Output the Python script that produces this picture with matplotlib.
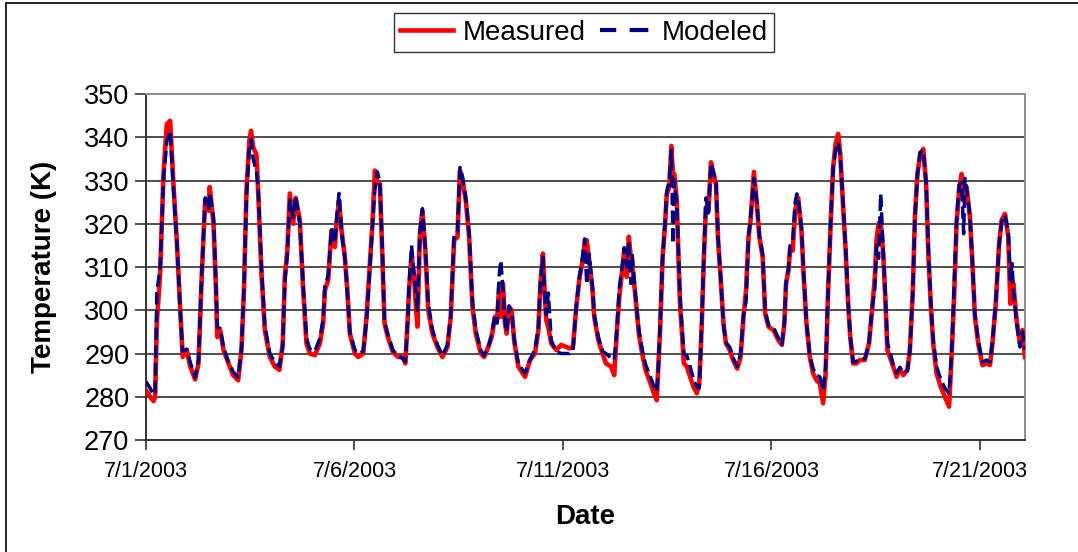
import matplotlib
matplotlib.use("Agg")
import matplotlib.pyplot as plt
import matplotlib.dates as mdates
from matplotlib.lines import Line2D
from matplotlib.patches import Rectangle
import pandas as pd

plt.rcParams["font.family"] = ["Liberation Sans", "DejaVu Sans"]

# days since 7/1/2003 00:00, measured (K), modeled (K)
days = [
    0.00, 0.10, 0.18, 0.22, 0.26, 0.34, 0.42, 0.50, 0.58, 0.66, 0.74, 0.82, 0.88, 0.98,
    1.06, 1.18, 1.26, 1.34, 1.42, 1.50, 1.53, 1.62, 1.68, 1.71, 1.78, 1.86, 1.98,
    2.09, 2.21, 2.29, 2.35, 2.41, 2.48, 2.52, 2.57, 2.65, 2.69, 2.77, 2.85, 2.97,
    3.09, 3.20, 3.28, 3.33, 3.39, 3.45, 3.53, 3.59, 3.69, 3.77, 3.85, 3.93,
    4.05, 4.17, 4.25, 4.29, 4.37, 4.45, 4.53, 4.57, 4.63, 4.69, 4.77, 4.83, 4.89,
    5.01, 5.09, 5.21, 5.29, 5.37, 5.43, 5.49, 5.55, 5.61, 5.67, 5.72, 5.80, 5.92,
    6.04, 6.16, 6.22, 6.28, 6.31, 6.37, 6.43, 6.47, 6.51, 6.57, 6.63, 6.70, 6.77, 6.87, 6.99,
    7.11, 7.23, 7.31, 7.39, 7.47, 7.53, 7.59, 7.67, 7.75, 7.83, 7.91,
    8.03, 8.11, 8.21, 8.29, 8.37, 8.42, 8.47, 8.51, 8.56, 8.61, 8.65, 8.71, 8.77, 8.83, 8.93,
    9.01, 9.09, 9.21, 9.33, 9.41, 9.46, 9.52, 9.56, 9.60, 9.65, 9.72, 9.84, 9.96,
    10.08, 10.16, 10.24, 10.32, 10.40, 10.46, 10.52, 10.57, 10.63, 10.71, 10.75, 10.85, 10.95,
    11.03, 11.15, 11.23, 11.29, 11.35, 11.43, 11.47, 11.53, 11.58, 11.63, 11.66, 11.74, 11.82, 11.90, 11.98,
    12.10, 12.18, 12.25, 12.29, 12.33, 12.39, 12.45, 12.49, 12.55, 12.60, 12.64, 12.67, 12.73, 12.77, 12.81, 12.85, 12.90, 12.97,
    13.05, 13.13, 13.21, 13.27, 13.33, 13.38, 13.43, 13.49, 13.55, 13.61, 13.67, 13.72, 13.78, 13.85, 13.91,
    14.00, 14.08, 14.18, 14.26, 14.33, 14.39, 14.45, 14.50, 14.58, 14.65, 14.71, 14.79, 14.85, 14.93,
    15.05, 15.17, 15.25, 15.31, 15.35, 15.41, 15.45, 15.51, 15.57, 15.61, 15.64, 15.72, 15.77, 15.84, 15.92,
    16.00, 16.08, 16.16, 16.24, 16.30, 16.36, 16.42, 16.48, 16.54, 16.60, 16.65, 16.72, 16.78, 16.84, 16.89, 16.96,
    17.04, 17.12, 17.24, 17.34, 17.42, 17.48, 17.52, 17.57, 17.62, 17.68, 17.73, 17.78, 17.84, 17.92,
    18.00, 18.08, 18.16, 18.26, 18.32, 18.39, 18.44, 18.50, 18.56, 18.64, 18.71, 18.76, 18.82, 18.88, 18.96,
    19.06, 19.16, 19.26, 19.32, 19.38, 19.44, 19.50, 19.56, 19.61, 19.64, 19.68, 19.76, 19.82, 19.88, 19.96,
    20.06, 20.16, 20.24, 20.30, 20.38, 20.46, 20.52, 20.60, 20.68, 20.73, 20.77, 20.80, 20.88, 20.96,
    21.02, 21.08,
]

measured = [
    281.5, 280.0, 279.0, 280.0, 297.0, 308.5, 331.5, 343.0, 343.8, 329.0, 316.0, 300.8, 289.2, 290.8,
    287.0, 284.0, 287.7, 308.5, 325.4, 323.0, 328.5, 320.0, 304.6, 293.8, 295.4, 290.8, 287.7,
    285.0, 283.8, 290.8, 304.6, 327.7, 339.2, 341.5, 337.7, 336.0, 327.7, 308.5, 295.4, 289.2,
    287.0, 286.2, 292.3, 307.7, 313.8, 327.0, 320.0, 326.0, 320.8, 304.6, 292.3, 290.0,
    289.6, 292.3, 297.0, 304.6, 307.0, 318.5, 314.6, 320.0, 325.4, 318.5, 312.3, 304.6, 294.6,
    290.0, 289.2, 290.0, 298.5, 310.8, 320.0, 332.3, 329.5, 329.2, 312.3, 297.0, 293.8, 290.4,
    289.2, 289.2, 287.7, 298.5, 304.6, 313.0, 307.7, 301.5, 296.2, 317.7, 323.0, 313.8, 300.0, 294.6, 291.5,
    289.2, 291.5, 298.5, 316.2, 316.9, 332.3, 330.0, 325.4, 317.0, 300.8, 294.6,
    290.0, 289.2, 291.5, 293.8, 298.5, 297.7, 305.4, 298.5, 306.2, 297.0, 294.6, 300.8, 300.0, 293.0, 287.0,
    285.8, 284.6, 288.5, 290.0, 295.4, 306.2, 313.1, 304.6, 297.7, 296.0, 292.3, 290.8, 292.0,
    291.5, 291.2, 291.5, 300.8, 307.7, 310.8, 315.4, 316.2, 311.5, 304.6, 298.5, 293.0, 290.0,
    287.7, 287.0, 285.0, 294.6, 303.0, 310.0, 313.8, 307.7, 317.0, 312.0, 310.8, 303.0, 294.6, 290.0, 286.2,
    283.1, 280.8, 279.2, 287.7, 295.4, 312.3, 320.0, 326.9, 328.5, 338.0, 331.0, 331.5, 325.4, 312.3, 300.8, 295.4, 287.7, 287.0,
    284.6, 282.3, 280.8, 283.1, 297.0, 312.3, 323.8, 323.0, 334.2, 331.5, 329.2, 316.2, 307.7, 297.0, 292.3,
    290.8, 288.5, 286.5, 289.2, 298.5, 304.6, 316.9, 320.8, 332.0, 324.6, 317.0, 312.3, 299.2, 296.2,
    295.4, 293.0, 292.0, 297.0, 306.2, 309.2, 314.6, 313.8, 323.0, 325.0, 326.0, 318.5, 308.5, 297.0, 289.2,
    285.4, 283.8, 283.1, 278.5, 285.4, 304.6, 320.0, 333.1, 338.5, 340.8, 336.2, 323.8, 313.8, 301.5, 293.8, 287.7,
    287.7, 288.5, 288.5, 292.3, 300.8, 307.7, 316.2, 320.0, 320.8, 313.1, 303.0, 290.8, 289.2, 287.0,
    284.6, 286.5, 285.0, 286.2, 290.8, 304.6, 321.5, 331.5, 335.4, 337.3, 329.2, 313.8, 301.5, 292.3, 285.4,
    282.3, 280.0, 277.7, 289.2, 303.0, 320.0, 327.7, 331.5, 325.4, 327.0, 328.5, 321.5, 310.8, 298.5, 292.3,
    287.3, 287.7, 287.3, 292.3, 301.5, 315.4, 320.8, 322.3, 317.0, 301.5, 305.0, 306.2, 297.7, 292.3,
    295.4, 289.2,
]

modeled = [
    283.5, 282.0, 280.4, 281.0, 304.0, 310.0, 330.0, 339.0, 341.5, 328.0, 316.0, 300.0, 290.5, 291.0,
    288.0, 284.5, 288.5, 309.0, 326.0, 323.5, 327.0, 321.5, 306.0, 296.0, 295.8, 291.5, 288.0,
    285.8, 284.5, 291.0, 305.0, 326.0, 338.0, 339.5, 335.0, 332.0, 328.5, 310.0, 296.5, 290.0,
    288.0, 287.0, 291.5, 306.5, 313.0, 325.5, 321.5, 326.5, 320.0, 306.0, 293.5, 291.0,
    290.5, 293.5, 298.0, 305.5, 308.0, 319.0, 315.5, 321.0, 327.0, 318.0, 312.0, 304.0, 295.0,
    290.8, 290.0, 290.5, 297.5, 310.0, 319.0, 328.0, 332.0, 329.5, 314.0, 297.5, 294.5, 290.8,
    289.5, 288.8, 288.2, 298.0, 306.0, 315.0, 308.0, 304.0, 300.0, 318.0, 323.5, 314.5, 301.5, 295.5, 292.0,
    289.5, 292.0, 299.0, 317.5, 318.0, 333.0, 331.0, 326.0, 318.0, 302.0, 295.5,
    290.8, 289.5, 291.5, 294.5, 299.0, 297.0, 308.0, 311.5, 305.0, 297.5, 295.0, 301.0, 299.5, 293.5, 287.5,
    286.5, 285.5, 288.5, 291.0, 296.0, 306.5, 312.3, 303.5, 299.0, 304.0, 293.0, 290.5, 290.0,
    290.0, 290.0, 290.5, 301.0, 308.0, 311.5, 316.5, 306.0, 313.0, 305.0, 299.0, 293.8, 290.5,
    290.0, 289.0, 288.5, 295.0, 305.0, 311.0, 314.5, 310.0, 316.0, 306.2, 313.0, 303.5, 295.5, 291.0, 287.5,
    284.5, 282.5, 281.2, 287.0, 297.0, 312.0, 320.5, 327.5, 330.0, 337.0, 315.4, 330.0, 324.5, 313.5, 303.0, 297.0, 290.0, 289.5,
    287.0, 284.0, 282.3, 282.0, 297.5, 313.0, 326.0, 322.5, 334.0, 332.0, 329.5, 317.0, 308.0, 296.5, 292.5,
    291.5, 289.0, 287.0, 290.0, 299.0, 302.0, 317.0, 321.5, 330.5, 325.0, 317.5, 313.0, 300.0, 296.5,
    296.0, 293.5, 292.0, 297.0, 306.5, 309.8, 315.0, 316.0, 325.0, 326.9, 326.0, 319.0, 309.0, 297.0, 289.5,
    286.5, 285.0, 284.6, 281.5, 287.0, 305.0, 320.5, 333.0, 337.0, 338.8, 335.5, 324.5, 314.5, 302.0, 294.0, 288.0,
    288.2, 288.7, 288.8, 292.5, 301.0, 305.0, 315.0, 312.0, 326.9, 314.0, 304.0, 292.5, 290.5, 287.5,
    285.5, 286.8, 285.5, 286.0, 290.5, 304.0, 321.0, 331.0, 336.5, 337.0, 329.5, 315.0, 302.0, 293.0, 287.0,
    284.0, 282.0, 280.8, 290.0, 305.0, 321.0, 329.0, 329.5, 317.7, 330.5, 328.0, 322.0, 311.0, 299.0, 293.0,
    288.0, 288.5, 288.0, 292.8, 302.0, 315.0, 320.5, 322.0, 318.0, 307.0, 310.8, 305.0, 297.0, 291.5,
    295.0, 291.0,
]

y_ticks = [270, 280, 290, 300, 310, 320, 330, 340, 350]
x_tick_dates = ["2003-07-01", "2003-07-06", "2003-07-11", "2003-07-16", "2003-07-21"]

start = pd.Timestamp("2003-07-01")
times = start + pd.to_timedelta(days, unit="D")

fig = plt.figure(figsize=(10.78, 5.52), dpi=100)
ax = fig.add_axes([0.1354, 0.2029, 0.8154, 0.6268])

# outer chart frame (left and top edges visible in the original)
fig.patches.append(Rectangle((6 / 1078, -0.05), 1.2, 1 - 3 / 552 + 0.05,
                             transform=fig.transFigure, fill=False,
                             edgecolor="black", linewidth=1.2))

ax.plot(times, measured, color="#ff0000", linewidth=3.3, label="Measured",
        solid_joinstyle="round", zorder=3)
ax.plot(times, modeled, color="#000080", linewidth=2.5, linestyle=(0, (3.6, 1.5)),
        label="Modeled", zorder=4)

ax.set_ylim(270, 350)
ax.set_yticks(y_ticks)
ax.set_xlim(start, start + pd.Timedelta(days=21.08))
ax.set_xticks(pd.to_datetime(x_tick_dates))
ax.xaxis.set_major_formatter(
    matplotlib.ticker.FuncFormatter(lambda v, p: "{d.month}/{d.day}/{d.year}".format(d=mdates.num2date(v))))

ax.grid(axis="y", color="#303030", linewidth=1.2)
ax.set_axisbelow(True)
ax.tick_params(axis="y", labelsize=19.5, direction="out", length=8, width=1.2, pad=4, color="#333333")
ax.tick_params(axis="x", labelsize=15.5, direction="out", length=7, width=1.2, pad=8, color="#333333")

for side in ("left", "bottom"):
    ax.spines[side].set_color("#333333")
    ax.spines[side].set_linewidth(1.4)
for side in ("top", "right"):
    ax.spines[side].set_color("#8c8c8c")
    ax.spines[side].set_linewidth(1.4)

ax.set_ylabel("Temperature (K)", fontsize=20, fontweight="bold")
ax.set_xlabel("Date", fontsize=20, fontweight="bold", labelpad=16)
ax.yaxis.set_label_coords(-0.101, 0.5)

handles = [
    Line2D([], [], color="#ff0000", linewidth=3.3),
    Line2D([], [], color="#000080", linewidth=3.0, linestyle=(0.6, (4.5, 3.2))),
]
leg = fig.legend(handles, ["Measured", "Modeled"], loc="center", bbox_to_anchor=(0.542, 0.941),
                 ncol=2, fontsize=20, frameon=True, fancybox=False, edgecolor="black",
                 handlelength=1.9, handletextpad=0.35, columnspacing=0.5, borderpad=0.22,
                 borderaxespad=0)
leg.get_frame().set_linewidth(1.0)

fig.savefig("out.png", dpi=100, facecolor="white")
